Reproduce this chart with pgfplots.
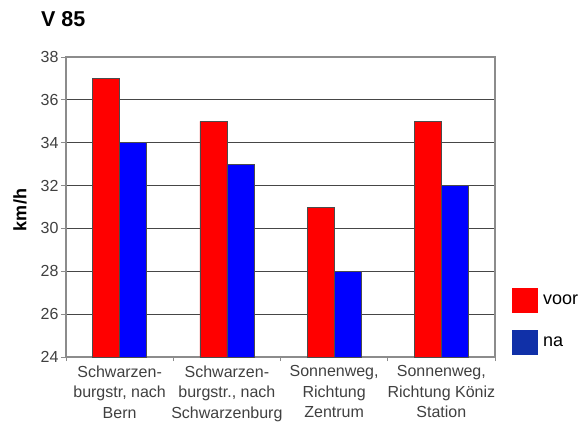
\documentclass[border=0pt]{standalone}
\usepackage{pgfplots}
\pgfplotsset{compat=1.18}
\usepackage{fontspec}
\setmainfont{Liberation Sans}
\definecolor{barred}{RGB}{255,0,0}
\definecolor{barblue}{RGB}{0,0,255}
\definecolor{legblue}{RGB}{16,48,168}
\definecolor{gridc}{RGB}{70,70,70}
\definecolor{framec}{RGB}{140,140,140}
\begin{document}
\begin{tikzpicture}[x=1pt,y=1pt]
\path[use as bounding box] (0,0) rectangle (580,424);
\begin{axis}[
  at={(66pt,67pt)}, anchor=south west,
  scale only axis, width=429pt, height=300pt,
  ybar=0pt, bar width=27pt,
  ymin=24, ymax=38, ytick={24,26,...,38},
  xmin=-0.5, xmax=3.5,
  xtick={0,1,2,3},
  xticklabels={{Schwarzen-\\burgstr, nach\\Bern},{Schwarzen-\\burgstr., nach\\Schwarzenburg},{Sonnenweg,\\Richtung\\Zentrum},{Sonnenweg,\\Richtung Köniz\\Station}},
  major x tick style={draw=none},
  minor xtick={-0.5,0.5,1.5,2.5,3.5},
  minor tick length=4pt,
  major tick length=5pt,
  tick align=outside,
  xtick pos=bottom, ytick pos=left,
  ymajorgrids, grid style={gridc, line width=1pt},
  axis line style={framec, line width=1.2pt},
  tick style={framec, line width=1pt},
  y tick label style={font=\fontsize{16}{16}\selectfont, text=black!75, xshift=1pt},
  x tick label style={font=\fontsize{16}{20.5}\selectfont, text=black!75, align=center, yshift=0pt},
  /pgf/number format/assume math mode=true,
]
\addplot[fill=barred, draw=black!70, line width=0.5pt] coordinates {(0,37) (1,35) (2,31) (3,35)};
\addplot[fill=barblue, draw=black!70, line width=0.5pt] coordinates {(0,34) (1,33) (2,28) (3,32)};
\end{axis}
\node[rotate=90, font=\fontsize{18}{18}\selectfont\bfseries, inner sep=0] at (20,214) {km/h};
\node[anchor=base west, font=\fontsize{21.5}{21.5}\selectfont\bfseries, inner sep=0] at (41,397) {V 85};
\fill[barred] (512,111) rectangle (538,136);
\fill[legblue] (512,69) rectangle (538,94);
\node[anchor=west, font=\fontsize{18}{18}\selectfont, inner sep=0] at (543,124) {voor};
\node[anchor=west, font=\fontsize{18}{18}\selectfont, inner sep=0] at (543,82) {na};
\end{tikzpicture}
\end{document}
